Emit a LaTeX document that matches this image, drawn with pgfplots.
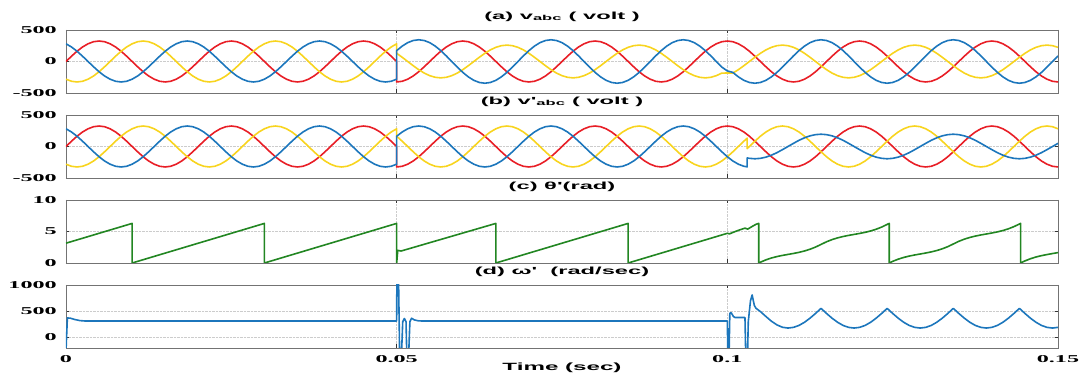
\documentclass[border=0pt]{standalone}
\usepackage{fontspec}
\setmainfont{Liberation Sans}
\newfontfamily\tfont[FakeStretch=2.3]{Liberation Sans}
\newfontfamily\kfont[FakeStretch=2.3]{Liberation Serif}
\usepackage{pgfplots}
\pgfplotsset{compat=1.18}
\usepackage{pgfplotstable}
\definecolor{cr}{RGB}{232,30,38}
\definecolor{cy}{RGB}{248,212,30}
\definecolor{cb}{RGB}{28,118,188}
\definecolor{cg}{RGB}{34,134,34}

\pgfplotstableread{
k r y b
0 0 -281 281
1 84 -314 230
2 163 -325 163
3 230 -314 84
4 281 -281 0
5 314 -230 -84
6 325 -163 -163
7 314 -84 -230
8 281 0 -281
9 230 84 -314
10 163 163 -325
11 84 230 -314
12 0 281 -281
13 -84 314 -230
14 -163 325 -163
15 -230 314 -84
16 -281 281 0
17 -314 230 84
18 -325 163 163
19 -314 84 230
20 -281 0 281
21 -230 -84 314
22 -163 -163 325
23 -84 -230 314
24 0 -281 281
25 84 -314 230
26 163 -325 163
27 230 -314 84
28 281 -281 0
29 314 -230 -84
30 325 -163 -163
31 314 -84 -230
32 281 0 -281
33 230 84 -314
34 163 163 -325
35 84 230 -314
36 0 281 -281
37 -84 314 -230
38 -163 325 -163
39 -230 314 -84
40 -281 281 0
41 -314 230 84
42 -325 163 163
43 -314 84 230
44 -281 0 281
45 -230 -84 314
46 -163 -163 325
47 -84 -230 314
48 0 -281 281
49 84 -314 230
50 163 -325 163
51 230 -314 84
52 281 -281 0
53 314 -230 -84
54 325 -163 -163
55 314 -84 -230
56 281 0 -281
57 230 84 -314
58 163 163 -325
59 84 230 -314
60 0 281 -281
60 -325 130 173
61 -314 67 244
62 -281 0 299
63 -230 -67 333
64 -163 -130 345
65 -84 -184 333
66 0 -225 299
67 84 -251 244
68 163 -260 173
69 230 -251 89
70 281 -225 0
71 314 -184 -89
72 325 -130 -173
73 314 -67 -244
74 281 0 -299
75 230 67 -333
76 163 130 -345
77 84 184 -333
78 0 225 -299
79 -84 251 -244
80 -163 260 -173
81 -230 251 -89
82 -281 225 0
83 -314 184 89
84 -325 130 173
85 -314 67 244
86 -281 0 299
87 -230 -67 333
88 -163 -130 345
89 -84 -184 333
90 0 -225 299
91 84 -251 244
92 163 -260 173
93 230 -251 89
94 281 -225 0
95 314 -184 -89
96 325 -130 -173
97 314 -67 -244
98 281 0 -299
99 230 67 -333
100 163 130 -345
101 84 184 -333
102 0 225 -299
103 -84 251 -244
104 -163 260 -173
105 -230 251 -89
106 -281 225 0
107 -314 184 89
108 -325 130 173
109 -314 67 244
110 -281 0 299
111 -230 -67 333
112 -163 -130 345
113 -84 -184 333
114 0 -225 299
115 84 -251 244
116 163 -260 173
117 230 -251 89
118 281 -225 0
119 314 -184 -89
120 325 -183 -150
121 314 -184 -173
122 281 -130 -244
123 230 -67 -299
124 163 0 -333
125 84 67 -345
126 0 130 -333
127 -84 184 -299
128 -163 225 -244
129 -230 251 -173
130 -281 260 -89
131 -314 251 0
132 -325 225 89
133 -314 184 173
134 -281 130 244
135 -230 67 299
136 -163 0 333
137 -84 -67 345
138 0 -130 333
139 84 -184 299
140 163 -225 244
141 230 -251 173
142 281 -260 89
143 314 -251 0
144 325 -225 -89
145 314 -184 -173
146 281 -130 -244
147 230 -67 -299
148 163 0 -333
149 84 67 -345
150 0 130 -333
151 -84 184 -299
152 -163 225 -244
153 -230 251 -173
154 -281 260 -89
155 -314 251 0
156 -325 225 89
157 -314 184 173
158 -281 130 244
159 -230 67 299
160 -163 0 333
161 -84 -67 345
162 0 -130 333
163 84 -184 299
164 163 -225 244
165 230 -251 173
166 281 -260 89
167 314 -251 0
168 325 -225 -89
169 314 -184 -173
170 281 -130 -244
171 230 -67 -299
172 163 0 -333
173 84 67 -345
174 0 130 -333
175 -84 184 -299
176 -163 225 -244
177 -230 251 -173
178 -281 260 -89
179 -314 251 0
180 -325 225 89
}\tabA

\pgfplotstableread{
k r y b
0 0 -281 281
1 84 -314 230
2 163 -325 163
3 230 -314 84
4 281 -281 0
5 314 -230 -84
6 325 -163 -163
7 314 -84 -230
8 281 0 -281
9 230 84 -314
10 163 163 -325
11 84 230 -314
12 0 281 -281
13 -84 314 -230
14 -163 325 -163
15 -230 314 -84
16 -281 281 0
17 -314 230 84
18 -325 163 163
19 -314 84 230
20 -281 0 281
21 -230 -84 314
22 -163 -163 325
23 -84 -230 314
24 0 -281 281
25 84 -314 230
26 163 -325 163
27 230 -314 84
28 281 -281 0
29 314 -230 -84
30 325 -163 -163
31 314 -84 -230
32 281 0 -281
33 230 84 -314
34 163 163 -325
35 84 230 -314
36 0 281 -281
37 -84 314 -230
38 -163 325 -163
39 -230 314 -84
40 -281 281 0
41 -314 230 84
42 -325 163 163
43 -314 84 230
44 -281 0 281
45 -230 -84 314
46 -163 -163 325
47 -84 -230 314
48 0 -281 281
49 84 -314 230
50 163 -325 163
51 230 -314 84
52 281 -281 0
53 314 -230 -84
54 325 -163 -163
55 314 -84 -230
56 281 0 -281
57 230 84 -314
58 163 163 -325
59 84 230 -314
60 0 281 -281
60 -325 163 163
61 -314 84 230
62 -281 0 281
63 -230 -84 314
64 -163 -163 325
65 -84 -230 314
66 0 -281 281
67 84 -314 230
68 163 -325 163
69 230 -314 84
70 281 -281 0
71 314 -230 -84
72 325 -163 -163
73 314 -84 -230
74 281 0 -281
75 230 84 -314
76 163 163 -325
77 84 230 -314
78 0 281 -281
79 -84 314 -230
80 -163 325 -163
81 -230 314 -84
82 -281 281 0
83 -314 230 84
84 -325 163 163
85 -314 84 230
86 -281 0 281
87 -230 -84 314
88 -163 -163 325
89 -84 -230 314
90 0 -281 281
91 84 -314 230
92 163 -325 163
93 230 -314 84
94 281 -281 0
95 314 -230 -84
96 325 -163 -163
97 314 -84 -230
98 281 0 -281
99 230 84 -314
100 163 163 -325
101 84 230 -314
102 0 281 -281
103 -84 314 -230
104 -163 325 -163
105 -230 314 -84
106 -281 281 0
107 -314 230 84
108 -325 163 163
109 -314 84 230
110 -281 0 281
111 -230 -84 314
112 -163 -163 325
113 -84 -230 314
114 0 -281 281
115 84 -314 230
116 163 -325 163
117 230 -314 84
118 281 -281 0
119 314 -230 -84
120 325 -163 -163
121 314 -84 -230
122 281 0 -281
123 230 84 -314
123.6 190 132 -323
123.6 190 -34 -182
124 163 0 -188
125 84 84 -195
126 0 163 -188
127 -84 230 -169
128 -163 281 -138
129 -230 314 -98
130 -281 325 -50
131 -314 314 0
132 -325 281 50
133 -314 230 98
134 -281 163 138
135 -230 84 169
136 -163 0 188
137 -84 -84 195
138 0 -163 188
139 84 -230 169
140 163 -281 138
141 230 -314 98
142 281 -325 50
143 314 -314 0
144 325 -281 -50
145 314 -230 -98
146 281 -163 -138
147 230 -84 -169
148 163 0 -188
149 84 84 -195
150 0 163 -188
151 -84 230 -169
152 -163 281 -138
153 -230 314 -98
154 -281 325 -50
155 -314 314 0
156 -325 281 50
157 -314 230 98
158 -281 163 138
159 -230 84 169
160 -163 0 188
161 -84 -84 195
162 0 -163 188
163 84 -230 169
164 163 -281 138
165 230 -314 98
166 281 -325 50
167 314 -314 0
168 325 -281 -50
169 314 -230 -98
170 281 -163 -138
171 230 -84 -169
172 163 0 -188
173 84 84 -195
174 0 163 -188
175 -84 230 -169
176 -163 281 -138
177 -230 314 -98
178 -281 325 -50
179 -314 314 0
180 -325 281 50
}\tabB

\pgfplotsset{
  panel/.style={
    width=992pt, height=63pt, scale only axis, anchor=south west,
    xmin=0, xmax=180, xtick={0,60,120,180}, xticklabels={},
    grid=major, major grid style={densely dotted, gray!40, line width=0.6pt},
    axis line style={black!55, line width=0.9pt},
    tick style={black!80, line width=0.9pt}, major tick length=3.5pt, tick align=inside,
    title style={font=\tfont\bfseries\fontsize{10.3}{12}\selectfont, at={(0.5,1)}, anchor=south, inner sep=0pt, yshift=2.5pt},
    ticklabel style={font=\kfont\bfseries\fontsize{10.5}{12}\selectfont},
    yticklabel style={anchor=east, inner sep=0pt, xshift=-9pt},
    xticklabel style={anchor=north, inner sep=0pt, yshift=-7pt},
    every axis plot/.append style={line width=1.6pt, line join=round},
  }
}

\begin{document}
\begin{tikzpicture}
\useasboundingbox (0,0) rectangle (1083pt,374pt);

\begin{axis}[panel, at={(66pt,281pt)}, ymin=-500, ymax=500, ytick={-500,0,500}, yticklabels={-500,0,500},
  title={(a) v\textsubscript{abc} ( volt )}]
\addplot[cr] table[x=k,y=r]{\tabA};
\addplot[cy] table[x=k,y=y]{\tabA};
\addplot[cb] table[x=k,y=b]{\tabA};
\end{axis}

\begin{axis}[panel, at={(66pt,196pt)}, ymin=-500, ymax=500, ytick={-500,0,500}, yticklabels={-500,0,500},
  title={(b) v'\textsubscript{abc} ( volt )}]
\addplot[cr] table[x=k,y=r]{\tabB};
\addplot[cy] table[x=k,y=y]{\tabB};
\addplot[cb] table[x=k,y=b]{\tabB};
\end{axis}

\begin{axis}[panel, at={(66pt,111pt)}, ymin=0, ymax=10, ytick={0,5,10}, yticklabels={0,5,10},
  title={(c) θ'(rad)}]
\addplot[cg] coordinates {(0,3.1416) (12,6.2832) (12,0) (36,6.2832) (36,0) (60,6.2832) (60,0) (60.2,2.0) (60.8,1.9) (78,6.2832) (78,0) (102,6.2832) (102,0) (120,4.712) (120.4,4.62) (121,4.85) (122,5.18) (123.2,5.53) (123.7,5.38) (124.5,5.80) (125.2,6.14) (125.7,6.2832) (125.7,0) (126,0.125) (127,0.498) (128,0.793) (129,1.022) (130,1.204) (131,1.360) (132,1.515) (133,1.691) (134,1.908) (135,2.182) (136,2.526) (137,2.948) (138,3.370) (139,3.714) (140,3.988) (141,4.205) (142,4.381) (143,4.536) (144,4.691) (145,4.867) (146,5.084) (147,5.358) (148,5.702) (149,6.124) (149.38,6.2832) (149.38,0) (150,0.263) (151,0.607) (152,0.881) (153,1.098) (154,1.274) (155,1.429) (156,1.584) (157,1.760) (158,1.977) (159,2.251) (160,2.595) (161,3.017) (162,3.439) (163,3.783) (164,4.057) (165,4.274) (166,4.450) (167,4.605) (168,4.760) (169,4.936) (170,5.153) (171,5.427) (172,5.771) (173,6.193) (173.21,6.2832) (173.21,0) (174,0.332) (175,0.676) (176,0.950) (177,1.167) (178,1.343) (179,1.498) (180,1.653)};
\end{axis}

\begin{axis}[panel, at={(66pt,26pt)}, ymin=-200, ymax=1000, ytick={0,500,1000}, yticklabels={0,500,1000},
  xticklabels={0,0.05,0.1,0.15},
  title={(d) ω'\ \ (rad/sec)},
  xlabel={Time (sec)},
  xlabel style={font=\tfont\bfseries\fontsize{10.5}{12}\selectfont, at={(0.5,0)}, anchor=north, inner sep=0pt, yshift=-15pt}]
\addplot[cb] coordinates {(0,-250) (0.25,372) (0.8,368) (1.5,345) (2.5,322) (3.5,314) (60,314) (60.05,1400) (60.3,1400) (60.55,-400) (60.85,-400) (61.1,300) (61.4,362) (61.7,300) (61.85,-400) (62.15,-400) (62.4,300) (62.7,367) (63.2,335) (64,316) (65,314) (120,314) (120.1,-400) (120.3,-400) (120.45,462) (120.7,472) (121.1,400) (121.4,380) (123.2,380) (123.35,-400) (123.65,-400) (123.8,300) (124.2,700) (124.5,810) (124.9,610) (125.2,557) (126,494) (127,400) (128,310) (129,240) (130,195) (131,180) (132,193) (133,230) (134,290) (135,368) (136,458) (137,555) (138,458) (139,368) (140,290) (141,230) (142,193) (143,180) (144,193) (145,230) (146,290) (147,368) (148,458) (149,555) (150,458) (151,368) (152,290) (153,230) (154,193) (155,180) (156,193) (157,230) (158,290) (159,368) (160,458) (161,555) (162,458) (163,368) (164,290) (165,230) (166,193) (167,180) (168,193) (169,230) (170,290) (171,368) (172,458) (173,555) (174,458) (175,368) (176,290) (177,230) (178,193) (179,180) (180,193)};
\end{axis}
\end{tikzpicture}
\end{document}
